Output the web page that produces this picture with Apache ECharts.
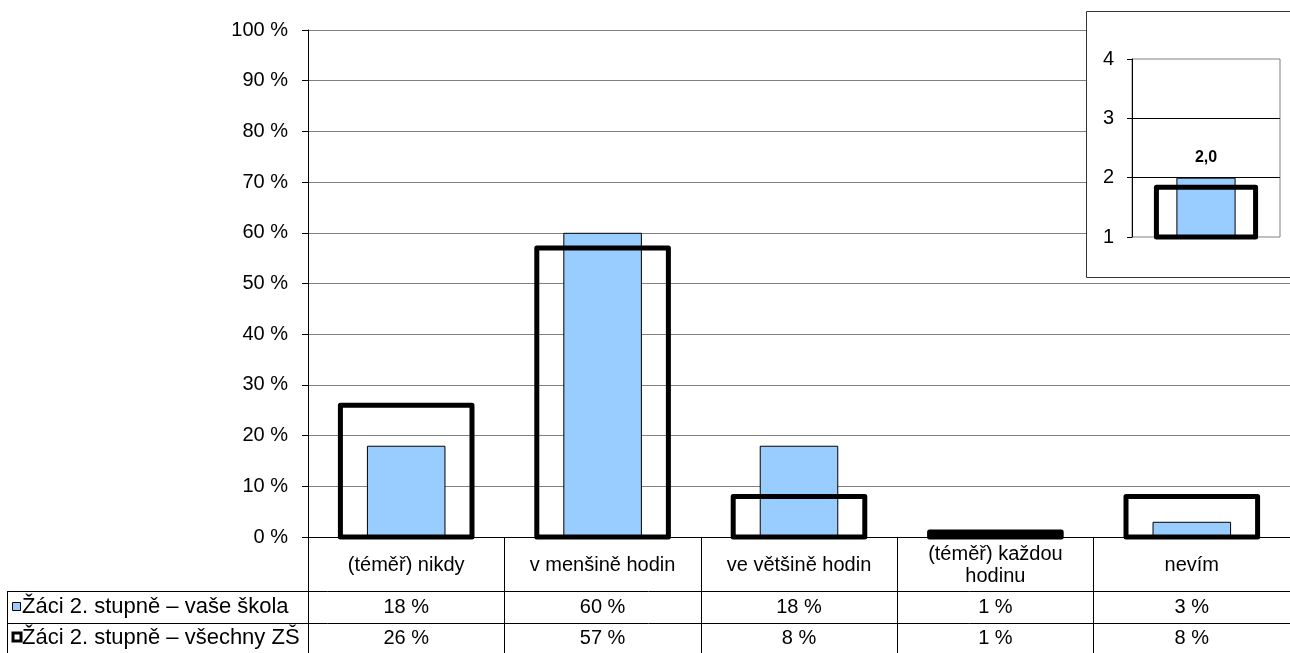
<!DOCTYPE html>
<html><head><meta charset="utf-8">
<script src="https://cdn.jsdelivr.net/npm/echarts@6/dist/echarts.min.js"></script>
<style>html,body{margin:0;padding:0;background:#fff}#c{width:1290px;height:653px}</style>
</head><body><div id="c"></div>
<script>
const categories = ['(téměř) nikdy', 'v menšině hodin', 've většině hodin', '(téměř) každou\nhodinu', 'nevím'];
const seriesNames = ['Žáci 2. stupně – vaše škola', 'Žáci 2. stupně – všechny ZŠ'];
const schoolValues = [18, 60, 18, 1, 3];
const allValues = [26, 57, 8, 1, 8];
const insetCategories = [''];
const insetSchool = [2.0];
const insetAll = [1.84];

const FONT = '"Liberation Sans", Arial, sans-serif';
const chart = echarts.init(document.getElementById('c'), null, {renderer: 'canvas'});

const txt = {color: '#000', fontFamily: FONT, fontSize: 20};

// Outline bar centred on the value (border straddles the value, like the original)
function outlineRenderer(base, widthRatio) {
  return function (params, api) {
    const c = api.value(0), v = api.value(1);
    const top = api.coord([c, v]);
    const bot = api.coord([c, base]);
    const bw = api.size([1, 0])[0] * widthRatio;
    return {
      type: 'rect',
      shape: {x: top[0] - bw / 2, y: top[1], width: bw, height: bot[1] - top[1]},
      style: {fill: 'none', stroke: '#000', lineWidth: 5, lineJoin: 'round'}
    };
  };
}

chart.setOption({
  animation: false,
  backgroundColor: '#fff',
  grid: [
    {left: 308, top: 30, width: 982, height: 507},
    {left: 1132, top: 59, width: 148, height: 178, show: true, borderColor: '#808080', borderWidth: 1, backgroundColor: 'rgba(0,0,0,0)', z: 3}
  ],
  xAxis: [
    {gridIndex: 0, type: 'category', data: categories, position: 'bottom',
     axisLine: {show: true, lineStyle: {color: '#000', width: 1}},
     axisTick: {show: true, length: 116, lineStyle: {color: '#000', width: 1}},
     axisLabel: Object.assign({}, txt, {interval: 0, margin: 28, verticalAlign: 'middle', lineHeight: 22})},
    {gridIndex: 0, type: 'category', data: categories, position: 'bottom',
     axisLine: {show: false}, axisTick: {show: false},
     axisLabel: Object.assign({}, txt, {interval: 0, margin: 70, verticalAlign: 'middle', formatter: (v, i) => schoolValues[i] + ' %'})},
    {gridIndex: 0, type: 'category', data: categories, position: 'bottom',
     axisLine: {show: false}, axisTick: {show: false},
     axisLabel: Object.assign({}, txt, {interval: 0, margin: 101, verticalAlign: 'middle', formatter: (v, i) => allValues[i] + ' %'})},
    {gridIndex: 1, type: 'category', data: insetCategories, show: false, z: 4}
  ],
  yAxis: [
    {gridIndex: 0, type: 'value', min: 0, max: 100, interval: 10,
     axisLine: {show: true, lineStyle: {color: '#000', width: 1}},
     axisTick: {show: true, length: 6, lineStyle: {color: '#000'}},
     axisLabel: Object.assign({}, txt, {margin: 20, formatter: '{value} %'}),
     splitLine: {show: true, lineStyle: {color: '#808080', width: 1}}},
    {gridIndex: 1, type: 'value', min: 1, max: 4, interval: 1, z: 4,
     axisLine: {show: true, lineStyle: {color: '#000', width: 1}},
     axisTick: {show: true, length: 5, lineStyle: {color: '#000'}},
     axisLabel: Object.assign({}, txt, {margin: 18, fontSize: 20}),
     splitLine: {show: true, showMinLine: false, showMaxLine: false, lineStyle: {color: '#000', width: 1}}}
  ],
  series: [
    {name: seriesNames[0], type: 'bar', xAxisIndex: 0, yAxisIndex: 0, data: schoolValues, barWidth: '40%', z: 2,
     itemStyle: {color: '#99CCFF', borderColor: '#000', borderWidth: 1}, emphasis: {disabled: true}},
    {name: seriesNames[1], type: 'custom', xAxisIndex: 0, yAxisIndex: 0, z: 3,
     data: allValues.map((v, i) => [i, v]), renderItem: outlineRenderer(0, 0.67)},
    {name: seriesNames[0], type: 'bar', xAxisIndex: 3, yAxisIndex: 1, data: insetSchool, barWidth: '40%', z: 5, clip: true,
     itemStyle: {color: '#99CCFF', borderColor: '#000', borderWidth: 1}, emphasis: {disabled: true},
     label: {show: true, position: 'top', distance: 12, color: '#000', fontFamily: FONT, fontSize: 16, fontWeight: 'bold',
             formatter: p => p.value.toFixed(1).replace('.', ',')}},
    {name: seriesNames[1], type: 'custom', xAxisIndex: 3, yAxisIndex: 1, z: 6,
     data: insetAll.map((v, i) => [i, v]), renderItem: outlineRenderer(1, 0.67)}
  ],
  graphic: [
    {type: 'rect', z: 1, shape: {x: 1086.5, y: 11.5, width: 240, height: 266}, style: {fill: '#fff', stroke: '#333', lineWidth: 1}},
    {type: 'line', z: 1, shape: {x1: 7, y1: 591.5, x2: 1290, y2: 591.5}, style: {stroke: '#000', lineWidth: 1}},
    {type: 'line', z: 1, shape: {x1: 7, y1: 623.5, x2: 1290, y2: 623.5}, style: {stroke: '#000', lineWidth: 1}},
    {type: 'line', z: 1, shape: {x1: 7.5, y1: 591, x2: 7.5, y2: 653}, style: {stroke: '#000', lineWidth: 1}},
    {type: 'rect', z: 1, shape: {x: 12.5, y: 602.5, width: 8, height: 8}, style: {fill: '#99CCFF', stroke: '#000', lineWidth: 1}},
    {type: 'rect', z: 1, shape: {x: 13, y: 633, width: 8, height: 8}, style: {fill: '#fff', stroke: '#000', lineWidth: 3}},
    {type: 'text', z: 1, style: {text: seriesNames[0], x: 22, y: 607, fill: '#000', font: '22px ' + FONT, verticalAlign: 'middle'}},
    {type: 'text', z: 1, style: {text: seriesNames[1], x: 22, y: 638, fill: '#000', font: '22px ' + FONT, verticalAlign: 'middle'}}
  ]
});
</script></body></html>
